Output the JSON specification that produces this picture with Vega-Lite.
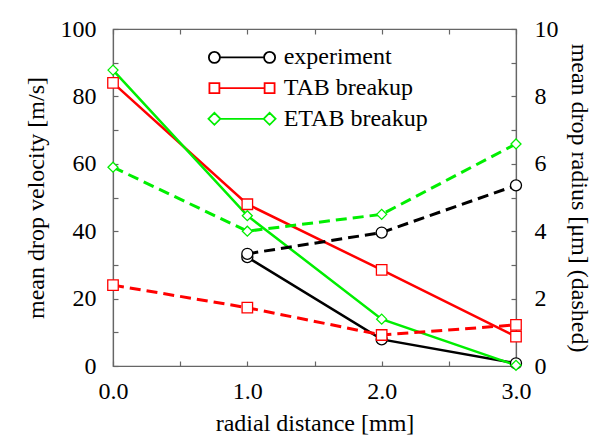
{
  "$schema": "https://vega.github.io/schema/vega-lite/v6.json",
  "width": 403,
  "height": 337,
  "autosize": {"type": "none"},
  "padding": {"left": 113, "top": 29, "right": 77, "bottom": 82},
  "background": "white",
  "config": {
    "view": {"stroke": "#666", "strokeWidth": 1.2},
    "axis": {
      "labelFont": "Times New Roman", "titleFont": "Times New Roman",
      "labelFontSize": 24, "titleFontSize": 24, "titleFontWeight": "normal",
      "labelColor": "black", "titleColor": "black", "labelFlush": false,
      "domainColor": "#666", "tickColor": "#666", "domainWidth": 1.2, "tickWidth": 1.2,
      "grid": false, "tickSize": -5
    },
    "legend": {"labelFont": "Times New Roman", "labelFontSize": 24, "labelColor": "black"}
  },
  "data": {
    "values": [
      {"series": "experiment", "x": 1, "velocity": 32.3, "radius": 3.33},
      {"series": "experiment", "x": 2, "velocity": 7.9, "radius": 3.96},
      {"series": "experiment", "x": 3, "velocity": 0.8, "radius": 5.36},
      {"series": "TAB breakup", "x": 0, "velocity": 84.0, "radius": 2.4},
      {"series": "TAB breakup", "x": 1, "velocity": 48.0, "radius": 1.73},
      {"series": "TAB breakup", "x": 2, "velocity": 28.5, "radius": 0.92},
      {"series": "TAB breakup", "x": 3, "velocity": 8.7, "radius": 1.22},
      {"series": "ETAB breakup", "x": 0, "velocity": 87.8, "radius": 5.9},
      {"series": "ETAB breakup", "x": 1, "velocity": 44.6, "radius": 4.0},
      {"series": "ETAB breakup", "x": 2, "velocity": 13.9, "radius": 4.5},
      {"series": "ETAB breakup", "x": 3, "velocity": 0.2, "radius": 6.59}
    ]
  },
  "layer": [
    {
      "mark": {"type": "line", "strokeWidth": 2.5},
      "encoding": {
        "x": {"field": "x", "type": "quantitative", "scale": {"domain": [0, 3]},
          "axis": {"orient": "bottom", "values": [0, 0.5, 1, 1.5, 2, 2.5, 3], "format": ".1f",
            "labelExpr": "datum.value % 1 === 0 ? datum.label : ''",
            "title": "radial distance [mm]", "labelPadding": 18, "titlePadding": 8}},
        "y": {"field": "velocity", "type": "quantitative", "scale": {"domain": [0, 100]},
          "axis": {"orient": "left", "values": [0, 10, 20, 30, 40, 50, 60, 70, 80, 90, 100],
            "labelExpr": "datum.value % 20 === 0 ? datum.label : ''",
            "title": "mean drop velocity [m/s]", "labelPadding": 22, "titlePadding": 12}},
        "stroke": {"field": "series", "type": "nominal",
          "scale": {"domain": ["experiment", "TAB breakup", "ETAB breakup"], "range": ["#000000", "#ff0000", "#00ee00"]},
          "legend": {"title": null, "orient": "none", "legendX": 117, "legendY": 16.4,
            "symbolType": "M-5.5,0L5.5,0", "symbolSize": 144, "symbolStrokeWidth": 1.8,
            "rowPadding": 6.7, "labelOffset": 29.7, "padding": 0,
            "encode": {"symbols": {"update": {
              "shape": {"signal": "datum.value === 'experiment' ? 'M-3.68,0L3.68,0M-5.52,0A0.92,0.92 0 1,0 -3.68,0A0.92,0.92 0 1,0 -5.52,0ZM3.68,0A0.92,0.92 0 1,0 5.52,0A0.92,0.92 0 1,0 3.68,0Z' : datum.value === 'TAB breakup' ? 'M-3.77,0L3.77,0M-5.43,-0.83H-3.77V0.83H-5.43ZM3.77,-0.83H5.43V0.83H3.77Z' : 'M-3.6,0L3.6,0M-5.6,0L-4.6,-1L-3.6,0L-4.6,1ZM3.6,0L4.6,-1L5.6,0L4.6,1Z'"},
              "strokeWidth": {"value": 1.8}}}}}}
      }
    },
    {
      "mark": {"type": "line", "strokeWidth": 3, "strokeDash": [11, 6]},
      "encoding": {
        "x": {"field": "x", "type": "quantitative", "scale": {"domain": [0, 3]},
          "axis": {"orient": "top", "values": [0, 0.5, 1, 1.5, 2, 2.5, 3], "labels": false, "title": null, "domain": false}},
        "y": {"field": "radius", "type": "quantitative", "scale": {"domain": [0, 10]},
          "axis": {"orient": "right", "values": [0, 1, 2, 3, 4, 5, 6, 7, 8, 9, 10],
            "labelExpr": "datum.value % 2 === 0 ? datum.label : ''",
            "title": "mean drop radius [μm] (dashed)", "labelPadding": 23, "titlePadding": 8}},
        "stroke": {"field": "series", "type": "nominal", "legend": null}
      }
    },
    {
      "transform": [{"filter": "datum.series === 'experiment'"}],
      "mark": {"type": "point", "shape": "circle", "size": 121, "stroke": "#000000", "fill": "white", "strokeWidth": 1.3, "opacity": 1},
      "encoding": {
        "x": {"field": "x", "type": "quantitative", "scale": {"domain": [0, 3]}, "axis": null},
        "y": {"field": "velocity", "type": "quantitative", "scale": {"domain": [0, 100]}, "axis": null}
      }
    },
    {
      "transform": [{"filter": "datum.series === 'TAB breakup'"}],
      "mark": {"type": "point", "shape": "square", "size": 110, "stroke": "#ff0000", "fill": "white", "strokeWidth": 1.3, "opacity": 1},
      "encoding": {
        "x": {"field": "x", "type": "quantitative", "scale": {"domain": [0, 3]}, "axis": null},
        "y": {"field": "velocity", "type": "quantitative", "scale": {"domain": [0, 100]}, "axis": null}
      }
    },
    {
      "transform": [{"filter": "datum.series === 'ETAB breakup'"}],
      "mark": {"type": "point", "shape": "diamond", "size": 100, "stroke": "#00ee00", "fill": "white", "strokeWidth": 1.3, "opacity": 1},
      "encoding": {
        "x": {"field": "x", "type": "quantitative", "scale": {"domain": [0, 3]}, "axis": null},
        "y": {"field": "velocity", "type": "quantitative", "scale": {"domain": [0, 100]}, "axis": null}
      }
    },
    {
      "transform": [{"filter": "datum.series === 'experiment'"}],
      "mark": {"type": "point", "shape": "circle", "size": 121, "stroke": "#000000", "fill": "white", "strokeWidth": 1.3, "opacity": 1},
      "encoding": {
        "x": {"field": "x", "type": "quantitative", "scale": {"domain": [0, 3]}, "axis": null},
        "y": {"field": "radius", "type": "quantitative", "scale": {"domain": [0, 10]}, "axis": null}
      }
    },
    {
      "transform": [{"filter": "datum.series === 'TAB breakup'"}],
      "mark": {"type": "point", "shape": "square", "size": 110, "stroke": "#ff0000", "fill": "white", "strokeWidth": 1.3, "opacity": 1},
      "encoding": {
        "x": {"field": "x", "type": "quantitative", "scale": {"domain": [0, 3]}, "axis": null},
        "y": {"field": "radius", "type": "quantitative", "scale": {"domain": [0, 10]}, "axis": null}
      }
    },
    {
      "transform": [{"filter": "datum.series === 'ETAB breakup'"}],
      "mark": {"type": "point", "shape": "diamond", "size": 100, "stroke": "#00ee00", "fill": "white", "strokeWidth": 1.3, "opacity": 1},
      "encoding": {
        "x": {"field": "x", "type": "quantitative", "scale": {"domain": [0, 3]}, "axis": null},
        "y": {"field": "radius", "type": "quantitative", "scale": {"domain": [0, 10]}, "axis": null}
      }
    }
  ],
  "resolve": {
    "scale": {"x": "independent", "y": "independent"},
    "axis": {"x": "independent", "y": "independent"}
  }
}
